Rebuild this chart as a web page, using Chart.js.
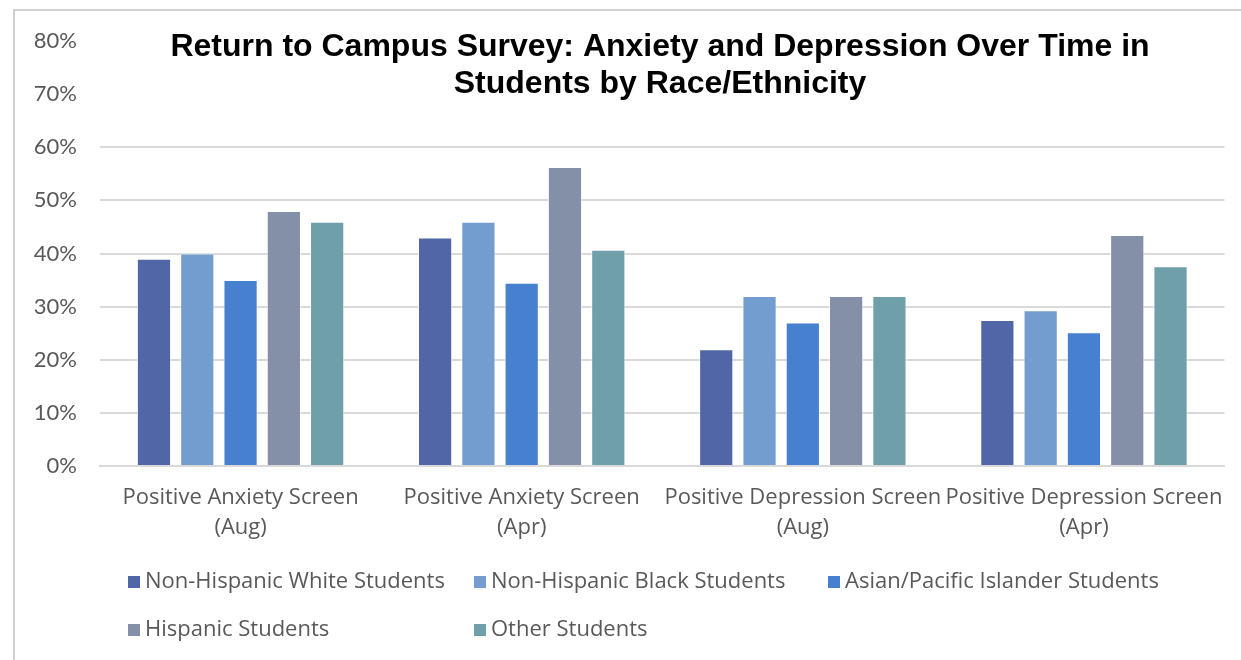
<!DOCTYPE html>
<html>
<head>
<meta charset="utf-8">
<script src="https://cdn.jsdelivr.net/npm/chart.js@4/dist/chart.umd.min.js"></script>
<style>
  html, body { margin: 0; padding: 0; background: #fff; }
  #wrap { position: relative; width: 1241px; height: 660px; overflow: hidden; }
  #frame { position: absolute; left: 13px; top: 9px; width: 1300px; height: 720px;
           border: 2px solid #d0d0d0; box-sizing: border-box; }
  canvas { position: absolute; left: 0; top: 0; }
</style>
</head>
<body>
<div id="wrap">
  <div id="frame"></div>
  <canvas id="chart" width="1241" height="660"></canvas>
</div>
<script>
// ------------------ Data ------------------
const titleLines = [
    'Return to Campus Survey: Anxiety and Depression Over Time in',
    'Students by Race/Ethnicity'
];
const categories = [
    ['Positive Anxiety Screen', '(Aug)'],
    ['Positive Anxiety Screen', '(Apr)'],
    ['Positive Depression Screen', '(Aug)'],
    ['Positive Depression Screen', '(Apr)']
];
const seriesNames = [
    'Non-Hispanic White Students',
    'Non-Hispanic Black Students',
    'Asian/Pacific Islander Students',
    'Hispanic Students',
    'Other Students'
];
const whiteValues    = [39, 43, 22, 27.5];
const blackValues    = [40, 46, 32, 29.3];
const asianValues    = [35, 34.5, 27, 25.2];
const hispanicValues = [48, 56.3, 32, 43.5];
const otherValues    = [46, 40.7, 32, 37.6];
const yMin = 0, yMax = 80, yStep = 10;

const seriesColors = ['#5166a6', '#739dcf', '#4680cf', '#8490a8', '#6fa0aa'];
const seriesValues = [whiteValues, blackValues, asianValues, hispanicValues, otherValues];

// ------------------ Plugins ------------------
const titlePlugin = {
    id: 'overlayTitle',
    afterDraw: function(chart) {
        const ctx = chart.ctx;
        ctx.save();
        ctx.fillStyle = '#000';
        ctx.font = 'bold 32px "Liberation Sans", Arial, sans-serif';
        ctx.textAlign = 'center';
        ctx.textBaseline = 'middle';
        titleLines.forEach(function(line, i) {
            ctx.fillText(line, 660, 47 + i * 37);
        });
        ctx.restore();
    }
};

const gridLegendPlugin = {
    id: 'gridLegend',
    afterDraw: function(chart) {
        const ctx = chart.ctx;
        const colX = [128, 474, 828];
        const rowY = [582, 630];
        ctx.save();
        ctx.font = '22px "Open Sans", sans-serif';
        ctx.textBaseline = 'middle';
        ctx.textAlign = 'left';
        chart.data.datasets.forEach(function(ds, i) {
            const x = colX[i % 3];
            const y = rowY[Math.floor(i / 3)];
            ctx.fillStyle = ds.backgroundColor;
            ctx.fillRect(x, y - 6, 12, 12);
            ctx.fillStyle = '#595959';
            ctx.fillText(ds.label, x + 17, y);
        });
        ctx.restore();
    }
};

// ------------------ Chart ------------------
const datasets = seriesNames.map(function(name, i) {
    return {
        label: name,
        data: seriesValues[i],
        backgroundColor: seriesColors[i],
        borderColor: 'rgba(255,255,255,0.7)',
        borderWidth: 1,
        barPercentage: 0.79,
        categoryPercentage: 0.77
    };
});

new Chart(document.getElementById('chart').getContext('2d'), {
    type: 'bar',
    data: { labels: categories, datasets: datasets },
    plugins: [titlePlugin, gridLegendPlugin],
    options: {
        responsive: false,
        animation: false,
        devicePixelRatio: 1,
        layout: { padding: { left: 0, right: 13, top: 41, bottom: 114 } },
        plugins: {
            legend: { display: false },
            title: { display: false },
            tooltip: { enabled: false }
        },
        scales: {
            x: {
                grid: { display: false, drawTicks: false },
                border: { color: '#d9d9d9', width: 2 },
                afterFit: function(scale) { scale.height = 80; },
                ticks: {
                    color: '#595959',
                    font: { family: '"Open Sans", sans-serif', size: 22, lineHeight: 1.36 },
                    padding: 17,
                    maxRotation: 0,
                    autoSkip: false
                }
            },
            y: {
                min: yMin,
                max: yMax,
                grid: {
                    drawTicks: false,
                    lineWidth: 2,
                    color: function(c) {
                        return c.tick && c.tick.value > 60 ? 'rgba(0,0,0,0)' : '#d9d9d9';
                    }
                },
                border: { display: false },
                afterFit: function(scale) { scale.width = 100; },
                ticks: {
                    stepSize: yStep,
                    color: '#595959',
                    font: { family: 'Lato, sans-serif', size: 22 },
                    padding: 23,
                    callback: function(v) { return v + '%'; }
                }
            }
        }
    }
});
</script>
</body>
</html>
